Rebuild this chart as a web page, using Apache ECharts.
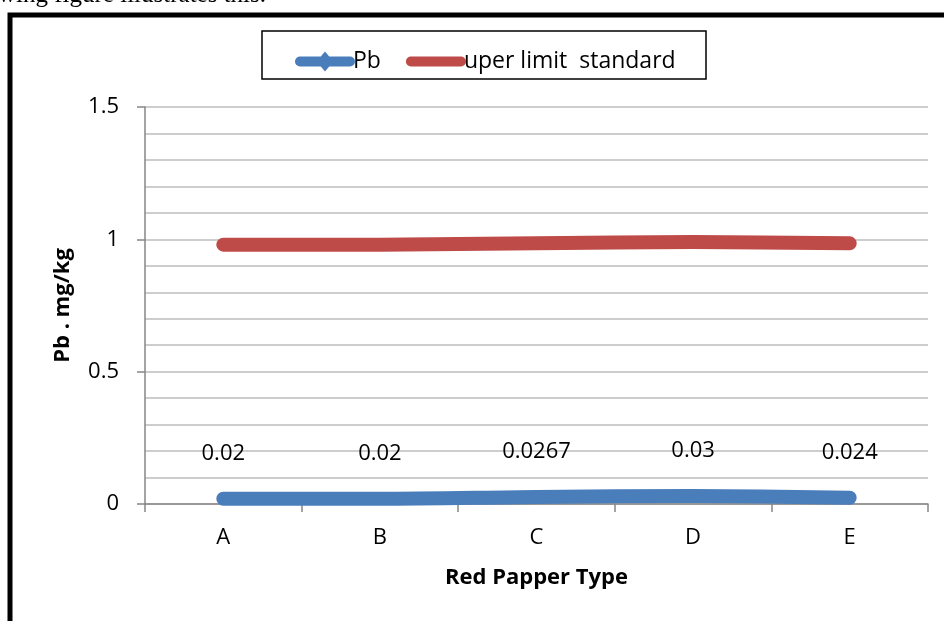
<!DOCTYPE html>
<html>
<head>
<meta charset="utf-8">
<script src="https://cdn.jsdelivr.net/npm/echarts@6/dist/echarts.min.js"></script>
<style>
  html, body { margin: 0; padding: 0; background: #fff; }
  #myChart { width: 944px; height: 621px; }
</style>
</head>
<body>
<div id="myChart"></div>
<script>
// red pepper samples
var categories = ['A', 'B', 'C', 'D', 'E'];
var pbValues = [0.02, 0.02, 0.0267, 0.03, 0.024];
var limitValues = [0.98, 0.98, 0.985, 0.99, 0.985];
var seriesNames = ['Pb', 'uper limit  standard'];

var FONT = '"Open Sans", Lato, sans-serif';

// legend icons: thick rounded bar (+ diamond marker for Pb)
var ICON_PB = 'path://M5,5 L55,5 A5,5 0 0 1 55,15 L5,15 A5,5 0 0 1 5,5 Z M30,0 L38.5,10 L30,20 L21.5,10 Z';
var ICON_LIMIT = 'path://M5,0 L55,0 A5,5 0 0 1 55,10 L5,10 A5,5 0 0 1 5,0 Z';

var myChart = echarts.init(document.getElementById('myChart'));
var option = {
  backgroundColor: '#fff',
  animation: false,
  textStyle: { fontFamily: FONT },
  graphic: [
    // cut-off line of the surrounding document text
    {
      type: 'text', left: -2, top: -17,
      style: { text: 'wing figure illustrates this.', font: '25px "Liberation Serif", serif', fill: '#000' }
    },
    // outer frame (runs past right/bottom edges)
    {
      type: 'rect', shape: { x: 10, y: 15, width: 1000, height: 1000 },
      style: { fill: 'none', stroke: '#000', lineWidth: 5 }, z: 100
    },
    // legend box
    {
      type: 'rect', shape: { x: 262, y: 31, width: 444, height: 48 },
      style: { fill: 'none', stroke: '#000', lineWidth: 1.5 }
    }
  ],
  legend: {
    left: 290, top: 45,
    itemWidth: 60, itemHeight: 20, itemGap: 25,
    textStyle: { fontSize: 23, color: '#000', fontFamily: FONT, padding: [0, 0, 0, -7] },
    data: [
      { name: seriesNames[0], icon: ICON_PB },
      { name: seriesNames[1], icon: ICON_LIMIT }
    ]
  },
  grid: { left: 145, right: 16, top: 107, bottom: 117 },
  xAxis: {
    type: 'category',
    data: categories,
    boundaryGap: true,
    name: 'Red Papper Type',
    nameLocation: 'middle',
    nameGap: 63,
    nameTextStyle: { fontSize: 22, fontWeight: 'bold', color: '#000', fontFamily: FONT },
    axisLine: { lineStyle: { color: '#868686', width: 1.5 } },
    axisTick: { show: true, length: 8, lineStyle: { color: '#868686', width: 1.5 } },
    axisLabel: { fontSize: 22, color: '#000', margin: 23, fontFamily: FONT },
    splitLine: { show: false }
  },
  yAxis: {
    type: 'value',
    min: 0, max: 1.5, interval: 0.5,
    name: 'Pb . mg/kg',
    nameLocation: 'middle',
    nameGap: 71,
    nameTextStyle: { fontSize: 22, fontWeight: 'bold', color: '#000', fontFamily: FONT },
    axisLine: { show: true, lineStyle: { color: '#868686', width: 1.5 } },
    axisTick: { show: true, length: 8, lineStyle: { color: '#868686', width: 1.5 } },
    axisLabel: { fontSize: 22, color: '#000', margin: 26, fontFamily: FONT },
    splitLine: { show: true, lineStyle: { color: '#bdbdbd', width: 1.5 } },
    minorTick: { show: false, splitNumber: 5 },
    minorSplitLine: { show: true, lineStyle: { color: '#bdbdbd', width: 1.5 } }
  },
  series: [
    {
      name: seriesNames[0],
      type: 'line',
      data: pbValues,
      smooth: 0.3,
      symbol: 'circle',
      symbolSize: 2,
      showSymbol: true,
      itemStyle: { color: '#4A7EBB' },
      lineStyle: { color: '#4A7EBB', width: 14, cap: 'round', join: 'round' },
      label: {
        show: true, position: 'top', distance: 33,
        fontSize: 22, color: '#000', fontFamily: FONT,
        formatter: function (p) { return String(p.value); }
      },
      z: 3
    },
    {
      name: seriesNames[1],
      type: 'line',
      data: limitValues,
      smooth: 0.3,
      symbol: 'none',
      itemStyle: { color: '#BE4B48' },
      lineStyle: { color: '#BE4B48', width: 14, cap: 'round', join: 'round' },
      z: 2
    }
  ]
};
myChart.setOption(option);
</script>
</body>
</html>
